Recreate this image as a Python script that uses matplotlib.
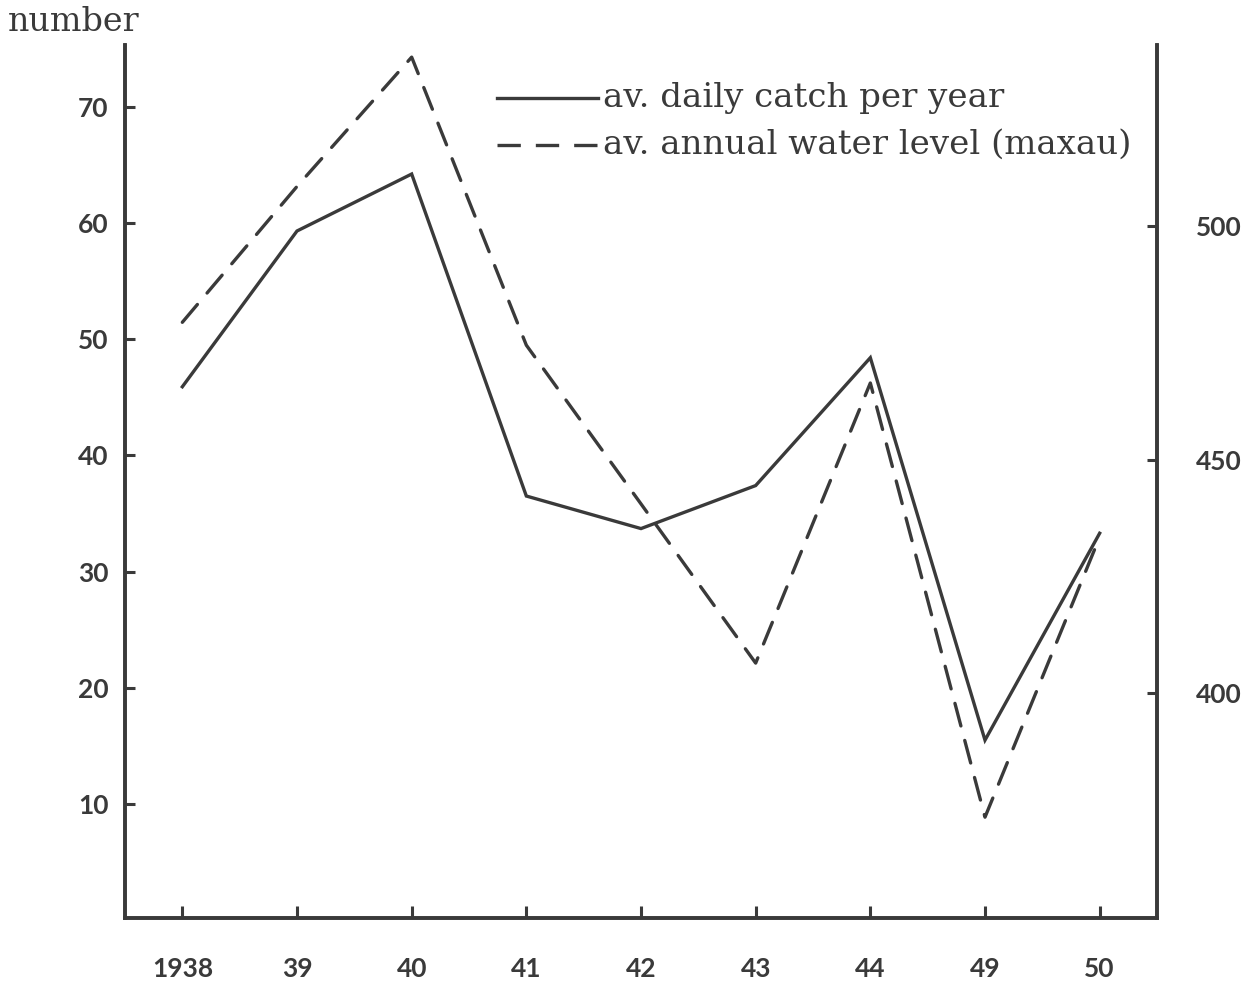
import matplotlib
matplotlib.use("Agg")
import matplotlib.pyplot as plt
from matplotlib.lines import Line2D

# Years (x categories) and the two series
years = ["1938", "39", "40", "41", "42", "43", "44", "49", "50"]
daily_catch = [45.9, 59.3, 64.2, 36.5, 33.7, 37.4, 48.4, 15.5, 33.3]
water_level = [479.4, 508.5, 536.2, 474.5, 440.5, 406.4, 466.4, 373.4, 433.4]

left_ticks = [10, 20, 30, 40, 50, 60, 70]
right_ticks = [400, 450, 500]

ink = "#3a3a3a"
serif = ["DejaVu Serif"]
sans = ["Lato", "DejaVu Sans"]

fig = plt.figure(figsize=(12.53, 9.97), dpi=100)
ax = fig.add_axes([125 / 1253, 1 - 918 / 997, (1157 - 125) / 1253, (918 - 45) / 997])
ax2 = ax.twinx()

x = list(range(len(years)))
ax.plot(x, daily_catch, color=ink, lw=2.4, solid_joinstyle="miter")
ax2.plot(x, water_level, color=ink, lw=2.4, dashes=(7, 4.5), dash_capstyle="round")

ax.set_xlim(-0.5, len(years) - 0.5)
ax.set_ylim(0.2, 75.3)
ax2.set_ylim(351.8, 538.8)

for a in (ax, ax2):
    a.spines["top"].set_visible(False)
    for s in a.spines.values():
        s.set_color(ink)
        s.set_linewidth(2.6)

tick_font = dict(family=sans, fontsize=19, fontweight="bold", color=ink)
ax.set_xticks(x)
ax.set_xticklabels(years, **tick_font)
ax.set_yticks(left_ticks)
ax.set_yticklabels([str(v) for v in left_ticks], **tick_font)
ax2.set_yticks(right_ticks)
ax2.set_yticklabels([str(v) for v in right_ticks], **tick_font)

ax.tick_params(axis="x", direction="in", length=9, width=2.2, color=ink, pad=28)
ax.tick_params(axis="y", direction="in", length=7, width=2.2, color=ink, pad=12)
ax2.tick_params(axis="y", direction="in", length=7, width=2.2, color=ink, pad=28)

# Axis caption above the left axis
fig.text(8 / 1253, 1 - 22 / 997, "number", family=serif, fontsize=24,
         color=ink, ha="left", va="center")

# Hand-placed key in the upper right
key = [("av. daily catch per year", "-"), ("av. annual water level (maxau)", "--")]
for i, (label, style) in enumerate(key):
    yk = 1 - (98 + 47 * i) / 997
    ln = Line2D([497 / 1253, 598 / 1253], [yk, yk], transform=fig.transFigure,
                color=ink, lw=2.4, linestyle=style,
                dashes=(7, 4.5) if style == "--" else (None, None))
    fig.add_artist(ln)
    fig.text(603 / 1253, yk, label, family=serif, fontsize=24.5, color=ink,
             ha="left", va="center")

fig.savefig("out.png", dpi=100, facecolor="white")
